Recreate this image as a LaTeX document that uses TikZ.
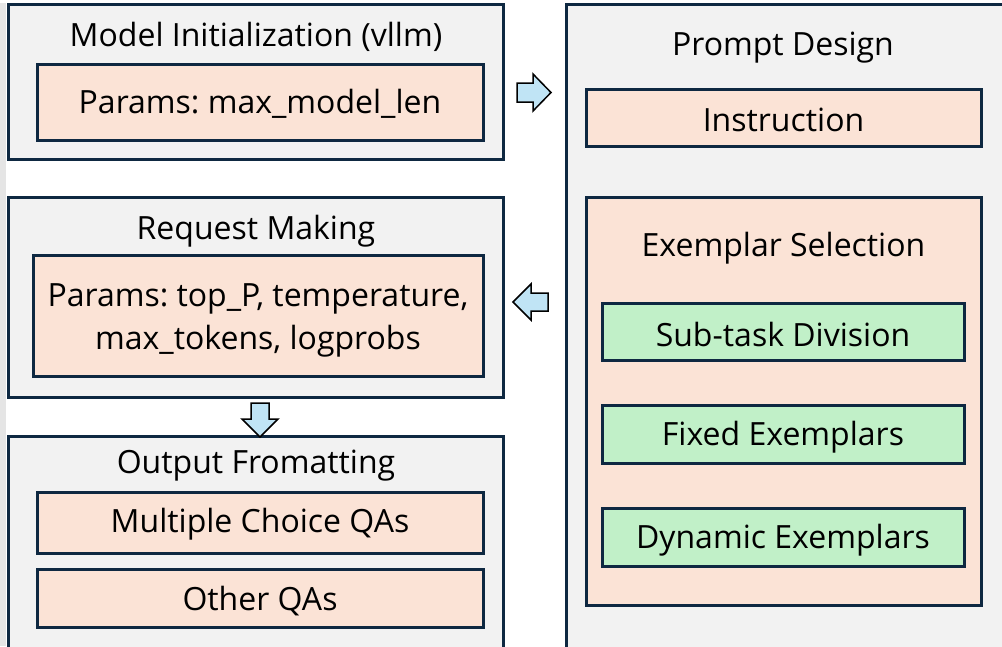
\documentclass[tikz,border=0pt]{standalone}
\usepackage{fontspec}
\setmainfont{Open Sans}
\frenchspacing
\definecolor{navy}{HTML}{0E2841}
\definecolor{panel}{HTML}{F2F2F2}
\definecolor{peach}{HTML}{FBE3D6}
\definecolor{mint}{HTML}{C1F0C8}
\definecolor{sky}{HTML}{C0E4F5}
\tikzset{
  outerbox/.style={draw=navy, fill=panel, line width=3pt, inner sep=0pt},
  peachbox/.style={draw=navy, fill=peach, line width=3pt, inner sep=0pt},
  greenbox/.style={draw=navy, fill=mint, line width=3pt, inner sep=0pt},
  lbl/.style={font=\fontsize{32}{43}\selectfont, inner sep=0pt, align=center},
  blockarrow/.style={draw=black, fill=sky, line width=1.5pt, line join=miter}
}
\begin{document}
\begin{tikzpicture}[x=1pt,y=-1pt]
\useasboundingbox (0,0) rectangle (1002,646);
\fill[white] (0,0) rectangle (1002,646);
\fill[black!10] (0,3) rectangle (6,646);
% left column
\node[outerbox, minimum width=495pt, minimum height=155pt] (mi) at (255.5,81.5) {};
\node[lbl] (mit) at (256,37) {Model Initialization (vllm)};
\node[peachbox, minimum width=446pt, minimum height=76pt] (mip) at (260,102) {};
\node[lbl] (mipt) at (260,104) {Params: max\_model\_len};

\node[outerbox, minimum width=495pt, minimum height=200pt] (rm) at (255.5,297) {};
\node[lbl] (rmt) at (256,231) {Request Making};
\node[peachbox, minimum width=450pt, minimum height=121pt] (rmp) at (258,315.5) {};
\node[lbl] (rmpt) at (258,320) {Params: top\_P, temperature,\\max\_tokens, logprobs};

\node[outerbox, minimum width=495pt, minimum height=212pt] (of) at (255.5,542) {};
\node[lbl] (oft) at (256,466) {Output Fromatting};
\node[peachbox, minimum width=446pt, minimum height=61pt] (mc) at (260,522.5) {};
\node[lbl] (mct) at (260,524) {Multiple Choice QAs};
\node[peachbox, minimum width=446pt, minimum height=58pt] (oq) at (260,598) {};
\node[lbl] (oqt) at (260,601) {Other QAs};

% right column
\node[outerbox, minimum width=438pt, minimum height=646pt] (pd) at (785,327) {};
\node[lbl] (pdt) at (783,48) {Prompt Design};
\node[peachbox, minimum width=395pt, minimum height=57pt] (ins) at (783.5,117.5) {};
\node[lbl] (inst) at (783.5,120) {Instruction};
\node[peachbox, minimum width=395pt, minimum height=408pt] (ex) at (783.5,401) {};
\node[lbl] (ext) at (783.5,248) {Exemplar Selection};
\node[greenbox, minimum width=362pt, minimum height=57pt] (sd) at (783,331.5) {};
\node[lbl] (sdt) at (783,334) {Sub-task Division};
\node[greenbox, minimum width=362pt, minimum height=58pt] (fe) at (783,434) {};
\node[lbl] (fet) at (783,437) {Fixed Exemplars};
\node[greenbox, minimum width=362pt, minimum height=58pt] (de) at (783,537) {};
\node[lbl] (det) at (783,540) {Dynamic Exemplars};

% block arrows
\draw[blockarrow] (517,83) -- (533,83) -- (533,74) -- (551,92.5) -- (533,111) -- (533,102) -- (517,102) -- cycle;
\draw[blockarrow] (548,293) -- (531,293) -- (531,284) -- (513,302) -- (531,320) -- (531,311) -- (548,311) -- cycle;
\draw[blockarrow] (251,403) -- (269,403) -- (269,419) -- (278,419) -- (260,437) -- (242,419) -- (251,419) -- cycle;
\end{tikzpicture}
\end{document}
